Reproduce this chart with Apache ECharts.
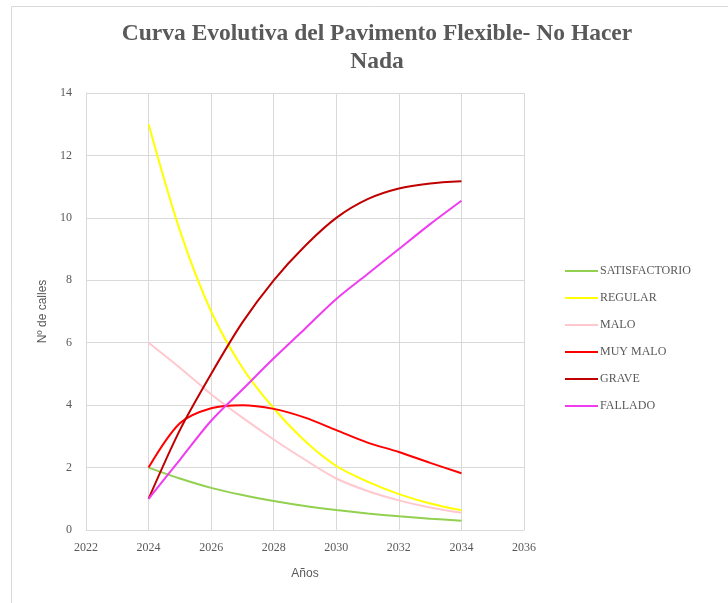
<!DOCTYPE html>
<html>
<head>
<meta charset="utf-8">
<script src="https://cdn.jsdelivr.net/npm/echarts@6/dist/echarts.min.js"></script>
<style>
  html, body { margin: 0; padding: 0; background: #fff; }
  #chart { width: 728px; height: 603px; }
</style>
</head>
<body>
<div id="chart"></div>
<script>
const years = [2024, 2025, 2026, 2027, 2028, 2029, 2030, 2031, 2032, 2033, 2034]
const satisfactorio = [2, 1.65, 1.35, 1.12, 0.93, 0.77, 0.64, 0.53, 0.44, 0.36, 0.3]
const regular = [13, 9.6, 7.0, 5.2, 3.9, 2.85, 2.05, 1.55, 1.15, 0.85, 0.63]
const malo = [6, 5.2, 4.35, 3.6, 2.9, 2.25, 1.65, 1.25, 0.95, 0.72, 0.55]
const muyMalo = [2, 3.42, 3.9, 4.0, 3.88, 3.6, 3.2, 2.8, 2.5, 2.15, 1.82]
const grave = [1, 3.2, 5.0, 6.65, 8.0, 9.1, 10.0, 10.6, 10.94, 11.1, 11.17]
const fallado = [1, 2.25, 3.5, 4.5, 5.5, 6.45, 7.4, 8.2, 9.0, 9.8, 10.55]

const seriesDefs = [
  { name: 'SATISFACTORIO', values: satisfactorio, color: '#92d050' },
  { name: 'REGULAR', values: regular, color: '#ffff00' },
  { name: 'MALO', values: malo, color: '#ffc7ce' },
  { name: 'MUY MALO', values: muyMalo, color: '#ff0000' },
  { name: 'GRAVE', values: grave, color: '#c00000' },
  { name: 'FALLADO', values: fallado, color: '#f03cf0' },
]

const gray = '#595959'
const gridColor = '#d9d9d9'
const serif = '"Liberation Serif", "DejaVu Serif", serif'
const sans = '"Liberation Sans", Arial, sans-serif'

const chart = echarts.init(document.getElementById('chart'))

chart.setOption({
  animation: false,
  backgroundColor: '#fff',
  graphic: [
    {
      type: 'rect',
      shape: { x: 11.5, y: 6.5, width: 740, height: 620 },
      style: { fill: 'none', stroke: gridColor, lineWidth: 1 },
      silent: true,
    },
  ],
  title: {
    text: 'Curva Evolutiva del Pavimento Flexible- No Hacer\nNada',
    left: 372,
    textAlign: 'center',
    top: 15,
    textStyle: {
      fontFamily: serif,
      fontWeight: 'bold',
      fontSize: 23.5,
      lineHeight: 28,
      color: gray,
    },
  },
  legend: {
    orient: 'vertical',
    left: 565,
    top: 265,
    padding: 0,
    icon: 'rect',
    itemWidth: 33,
    itemHeight: 2,
    itemGap: 15,
    data: seriesDefs.map((s) => s.name),
    textStyle: { fontFamily: serif, fontSize: 12, color: gray, padding: [0, 0, 0, -3] },
  },
  grid: {
    left: 86,
    right: 204,
    top: 93,
    bottom: 73,
  },
  xAxis: {
    type: 'value',
    min: 2022,
    max: 2036,
    interval: 2,
    name: 'Años',
    nameLocation: 'middle',
    nameGap: 38,
    nameTextStyle: { fontFamily: sans, fontSize: 12, color: gray },
    axisLine: { lineStyle: { color: gridColor } },
    axisTick: { show: false },
    axisLabel: { fontFamily: serif, fontSize: 12, color: gray, margin: 12, formatter: (v) => String(v) },
    splitLine: { show: true, lineStyle: { color: gridColor, width: 1 } },
  },
  yAxis: {
    type: 'value',
    min: 0,
    max: 14,
    interval: 2,
    name: 'Nº de calles',
    nameLocation: 'middle',
    nameGap: 36,
    nameTextStyle: { fontFamily: sans, fontSize: 12, color: gray },
    axisLine: { show: true, lineStyle: { color: gridColor } },
    axisTick: { show: false },
    axisLabel: { fontFamily: serif, fontSize: 12, color: gray, margin: 14 },
    splitLine: { lineStyle: { color: gridColor, width: 1 } },
  },
  series: seriesDefs.map((s) => ({
    name: s.name,
    type: 'line',
    smooth: 0.3,
    symbol: 'none',
    color: s.color,
    data: years.map((y, i) => [y, s.values[i]]),
    lineStyle: { color: s.color, width: 2 },
    itemStyle: { color: s.color },
  })),
})
</script>
</body>
</html>
